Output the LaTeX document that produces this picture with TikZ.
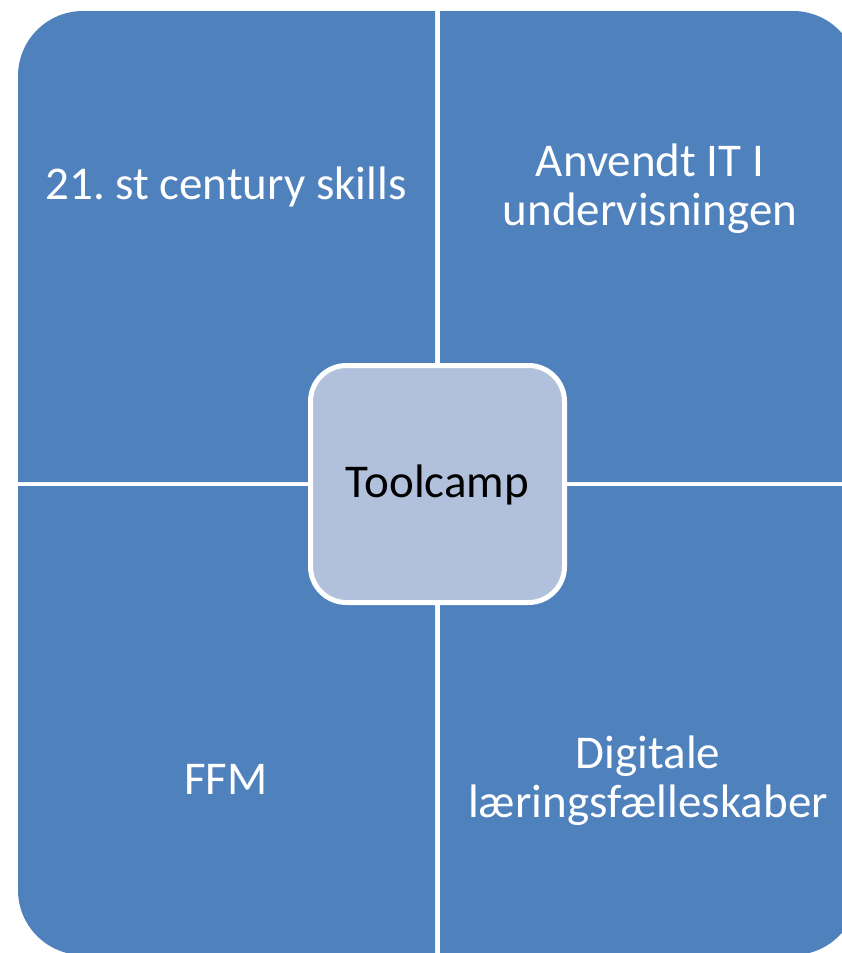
\documentclass[tikz,border=0pt]{standalone}
\usepackage{fontspec}
\setmainfont{Carlito}
\frenchspacing
\definecolor{quadblue}{HTML}{4F81BD}
\definecolor{centerblue}{HTML}{B1C1DC}
\begin{document}
\begin{tikzpicture}[x=1pt,y=-1pt,
  quad/.style={fill=quadblue},
  qlabel/.style={text=white,anchor=base,inner sep=0pt,font=\fontsize{47}{50}\selectfont},
  centerbox/.style={fill=centerblue,draw=white,line width=5pt,rounded corners=36pt,
    minimum width=254pt,minimum height=237pt,inner sep=0pt,
    text height=36pt,text depth=10pt,font=\fontsize{47}{50}\selectfont,text=black}]
\useasboundingbox (0,0) rectangle (842,953);
\begin{scope}
\clip (0,0) rectangle (842,953);
% quadrants
\fill[quad] (18,482) -- (18,76) arc[start angle=180,end angle=270,radius=65] -- (435,11) -- (435,482) -- cycle;
\fill[quad] (440,482) -- (440,11) -- (793,11) arc[start angle=270,end angle=360,radius=65] -- (858,482) -- cycle;
\fill[quad] (18,486) -- (435,486) -- (435,955) -- (83,955) arc[start angle=90,end angle=180,radius=65] -- cycle;
\fill[quad] (440,486) -- (858,486) -- (858,890) arc[start angle=0,end angle=90,radius=65] -- (440,955) -- cycle;
\end{scope}
% labels
\node[qlabel] (tl) at (226,199) {21.\ st century skills};
\node[qlabel] (tra) at (650,176) {Anvendt IT I};
\node[qlabel] (trb) at (650,225) {undervisningen};
\node[qlabel] (bl) at (226,794) {FFM};
\node[qlabel] (bra) at (648,768) {Digitale};
\node[qlabel] (brb) at (648,817) {læringsfælleskaber};
% center
\node[centerbox] (center) at (437.5,484) {Toolcamp};
\end{tikzpicture}
\end{document}
